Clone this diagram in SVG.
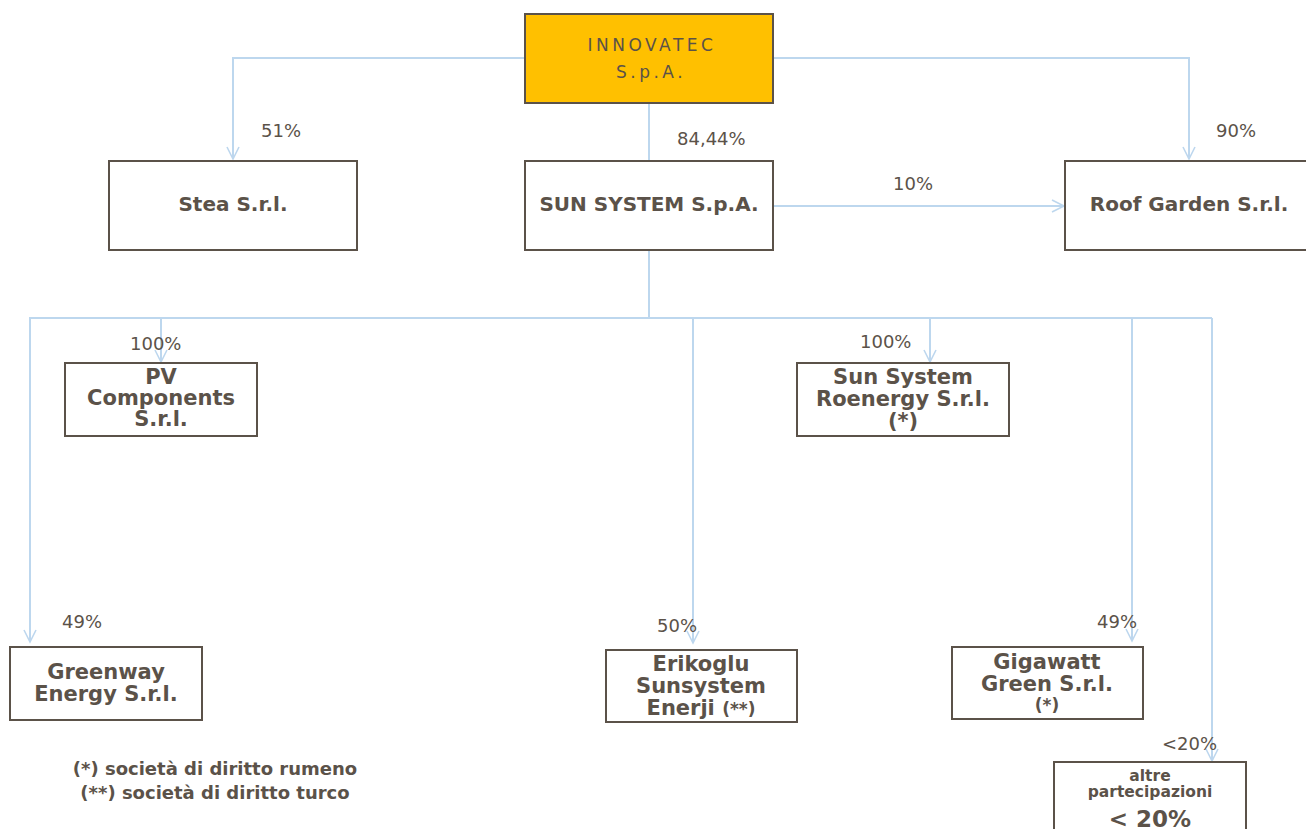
<svg xmlns="http://www.w3.org/2000/svg" width="1306" height="829" viewBox="0 0 1306 829">
<style>
.box{fill:#ffffff;stroke:#5b5249;stroke-width:2}
.t{font-family:"DejaVu Sans",Verdana,sans-serif;fill:#5b5249;text-anchor:middle}
.b{font-weight:bold;font-size:21px}
.b20{font-weight:bold;font-size:20px}
.lbl{font-family:"DejaVu Sans",Verdana,sans-serif;fill:#5b5249;font-size:18px}
.ln{fill:none;stroke:#bdd7ee;stroke-width:2}
</style>
<defs>
<marker id="ah" markerWidth="16" markerHeight="16" refX="14" refY="8" orient="auto" markerUnits="userSpaceOnUse">
<polyline points="2,2 14,8 2,14" fill="none" stroke="#bdd7ee" stroke-width="1.6"/>
</marker>
</defs>
<rect width="1306" height="829" fill="#ffffff"/>
<g id="connectors">
<polyline class="ln" points="525,58 233,58 233,159" marker-end="url(#ah)"/>
<polyline class="ln" points="773,58 1189,58 1189,159" marker-end="url(#ah)"/>
<line class="ln" x1="649" y1="103" x2="649" y2="160"/>
<line class="ln" x1="773" y1="206" x2="1064" y2="206" marker-end="url(#ah)"/>
<line class="ln" x1="649" y1="250" x2="649" y2="318"/>
<line class="ln" x1="29" y1="318" x2="1212" y2="318"/>
<line class="ln" x1="30" y1="318" x2="30" y2="642" marker-end="url(#ah)"/>
<line class="ln" x1="161" y1="318" x2="161" y2="362" marker-end="url(#ah)"/>
<line class="ln" x1="693" y1="318" x2="693" y2="643" marker-end="url(#ah)"/>
<line class="ln" x1="930" y1="318" x2="930" y2="362" marker-end="url(#ah)"/>
<line class="ln" x1="1132" y1="318" x2="1132" y2="641" marker-end="url(#ah)"/>
<line class="ln" x1="1212" y1="318" x2="1212" y2="761" marker-end="url(#ah)"/>
</g>
<g id="labels">
<text class="lbl" x="261" y="137">51%</text>
<text class="lbl" x="677" y="145">84,44%</text>
<text class="lbl" x="1216" y="137">90%</text>
<text class="lbl" x="893" y="190">10%</text>
<text class="lbl" x="130" y="350">100%</text>
<text class="lbl" x="860" y="348">100%</text>
<text class="lbl" x="62" y="628">49%</text>
<text class="lbl" x="657" y="632">50%</text>
<text class="lbl" x="1097" y="628">49%</text>
<text class="lbl" x="1162" y="750">&lt;20%</text>
</g>
<g id="innovatec">
<rect x="525" y="14" width="248" height="89" fill="#ffc000" stroke="#5b5249" stroke-width="2"/>
<text class="t" x="652" y="51" font-size="17" letter-spacing="3.5">INNOVATEC</text>
<text class="t" x="651" y="78" font-size="17" letter-spacing="3.5">S.p.A.</text>
</g>
<g id="stea">
<rect class="box" x="109" y="161" width="248" height="89"/>
<text class="t b20" x="233" y="211">Stea S.r.l.</text>
</g>
<g id="sunsystem">
<rect class="box" x="525" y="161" width="248" height="89"/>
<text class="t b20" x="649" y="211">SUN SYSTEM S.p.A.</text>
</g>
<g id="roofgarden">
<rect class="box" x="1065" y="161" width="250" height="89"/>
<text class="t b20" x="1189" y="211">Roof Garden S.r.l.</text>
</g>
<g id="pvcomponents">
<rect class="box" x="65" y="363" width="192" height="73"/>
<text class="t b" x="161" y="384">PV</text>
<text class="t b" x="161" y="405">Components</text>
<text class="t b" x="161" y="426">S.r.l.</text>
</g>
<g id="roenergy">
<rect class="box" x="797" y="363" width="212" height="73"/>
<text class="t b" x="903" y="384">Sun System</text>
<text class="t b" x="903" y="406">Roenergy S.r.l.</text>
<text class="t b" x="903" y="428">(*)</text>
</g>
<g id="greenway">
<rect class="box" x="10" y="647" width="192" height="73"/>
<text class="t b" x="106" y="679">Greenway</text>
<text class="t b" x="106" y="701">Energy S.r.l.</text>
</g>
<g id="erikoglu">
<rect class="box" x="606" y="650" width="191" height="72"/>
<text class="t b" x="701" y="671">Erikoglu</text>
<text class="t b" x="701" y="693">Sunsystem</text>
<text class="t b" x="701" y="715">Enerji <tspan font-size="17">(**)</tspan></text>
</g>
<g id="gigawatt">
<rect class="box" x="952" y="647" width="191" height="72"/>
<text class="t b" x="1047" y="669">Gigawatt</text>
<text class="t b" x="1047" y="691">Green S.r.l.</text>
<text class="t" x="1047" y="711" font-size="17" font-weight="bold">(*)</text>
</g>
<g id="altre">
<rect class="box" x="1054" y="762" width="192" height="80"/>
<text class="t" x="1150" y="781" font-size="15.5" font-weight="bold">altre</text>
<text class="t" x="1150" y="797" font-size="15.5" font-weight="bold">partecipazioni</text>
<text class="t" x="1150" y="827" font-size="23" font-weight="bold">&lt; 20%</text>
</g>
<g id="notes">
<text class="t" x="215" y="775" font-size="18" font-weight="bold">(*) società di diritto rumeno</text>
<text class="t" x="215" y="799" font-size="18" font-weight="bold">(**) società di diritto turco</text>
</g>
</svg>
